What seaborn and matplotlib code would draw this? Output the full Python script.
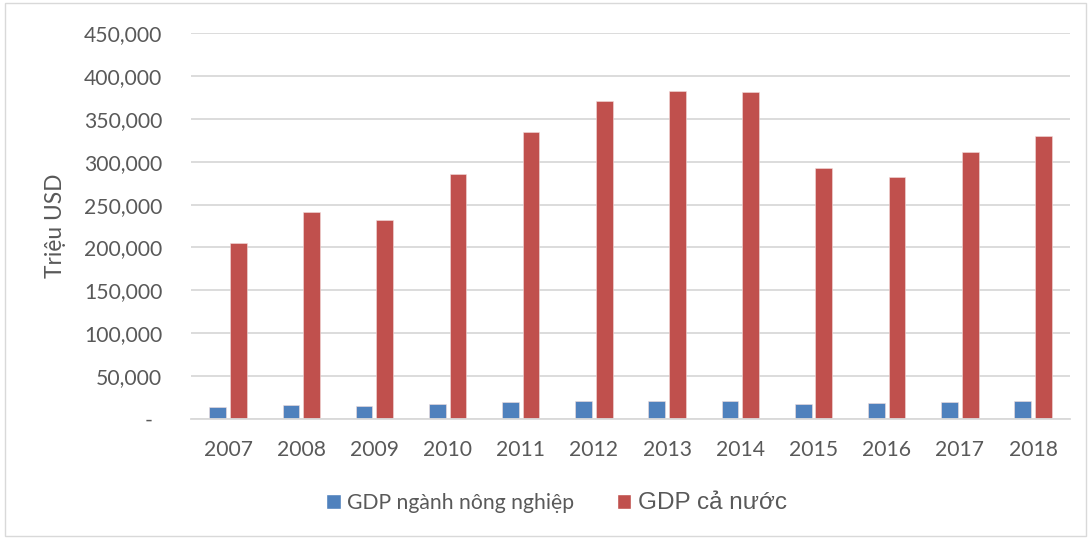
import matplotlib
matplotlib.use("Agg")
import matplotlib.pyplot as plt
import seaborn as sns
import pandas as pd
from matplotlib.patches import Rectangle, Patch
from matplotlib.ticker import FuncFormatter

years = ["2007", "2008", "2009", "2010", "2011", "2012",
         "2013", "2014", "2015", "2016", "2017", "2018"]
gdp_agri = [14000, 15900, 15100, 17800, 19800, 20500,
            20500, 20500, 17400, 18600, 19800, 20500]
gdp_total = [205000, 241000, 232000, 286000, 335000, 371000,
             382000, 381000, 293000, 282000, 311000, 330000]
series_names = ["GDP ngành nông nghiệp", "GDP cả nước"]
y_label = "Triệu USD"
colors = ["#4F81BD", "#C0504D"]

df = pd.DataFrame({
    "year": years * 2,
    "value": gdp_agri + gdp_total,
    "series": [series_names[0]] * len(years) + [series_names[1]] * len(years),
})

sns.set_theme(style="white")
plt.rcParams["font.family"] = ["Lato", "DejaVu Sans"]
text_color = "#595959"
fs = 15.2

fig = plt.figure(figsize=(10.91, 5.39), dpi=100)
ax = fig.add_axes([0.1755, 0.2226, 0.8049, 0.716])

sns.barplot(data=df, x="year", y="value", hue="series", palette=colors,
            width=0.564, gap=0.19, ax=ax, legend=False,
            edgecolor="#f2dcdb", linewidth=0.4, saturation=1)

ax.set_ylim(0, 450000)
ax.set_yticks(range(0, 450001, 50000))
ax.yaxis.set_major_formatter(FuncFormatter(lambda v, p: "-" if v == 0 else f"{int(v):,}"))
ax.yaxis.grid(True, color="#d9d9d9", linewidth=1.3)
ax.set_axisbelow(True)
for s in ["top", "right", "left"]:
    ax.spines[s].set_visible(False)
ax.spines["bottom"].set_color("#d9d9d9")
ax.spines["bottom"].set_linewidth(1.3)
ax.tick_params(axis="y", length=0, pad=21, labelsize=fs, labelcolor=text_color)
ax.tick_params(axis="x", length=0, pad=15, labelsize=fs, labelcolor=text_color)
ax.set_xlabel("")
ax.set_ylabel(y_label, fontsize=fs + 1.2, color=text_color, labelpad=13)
ax.set_xlim(-0.5, len(years) - 0.5)

ticks = ax.yaxis.get_major_ticks()
ticks[0].set_pad(28)

handles = [Patch(facecolor=colors[0]), Patch(facecolor=colors[1])]
leg = fig.legend(handles, series_names, loc="center", bbox_to_anchor=(0.51, 0.067),
                 ncol=2, frameon=False, handlelength=0.7, handleheight=0.7,
                 handletextpad=0.3, columnspacing=2.0, fontsize=fs)
for t in leg.get_texts():
    t.set_color(text_color)
leg.get_texts()[1].set_family(["Liberation Sans", "DejaVu Sans"])
leg.get_texts()[1].set_fontsize(fs + 2.3)

fig.patches.append(Rectangle((0.005, 0.006), 0.99, 0.988, transform=fig.transFigure,
                             fill=False, edgecolor="#d9d9d9", linewidth=1))

fig.savefig("out.png", dpi=100)
